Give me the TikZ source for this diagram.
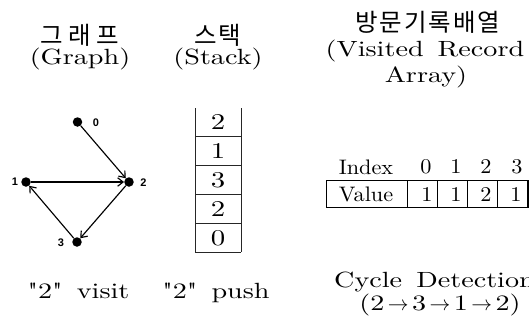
\documentclass[tikz,border=0pt]{standalone}
\usepackage{fontspec}
\setmainfont{lmroman10-regular.otf}[FakeStretch=1.28, WordSpace=1.5, Ligatures=TeXOff]
\newfontfamily\tabfont{lmroman10-regular.otf}[FakeStretch=1.06, Ligatures=TeXOff]
\newfontfamily\kr{Noto Sans CJK KR}[LetterSpace=8]
\newfontfamily\krwide{Noto Sans CJK KR}[LetterSpace=22]
\newfontfamily\lblfont{Liberation Sans}
\usetikzlibrary{arrows.meta}
\begin{document}
\begin{tikzpicture}[x=1pt,y=-1pt,
  title/.style={font=\fontsize{22}{26}\selectfont, inner sep=0pt, anchor=base},
  ktitle/.style={font=\kr\fontsize{24.5}{28}\selectfont, inner sep=0pt},
  ktitlewide/.style={font=\krwide\fontsize{24.5}{28}\selectfont, inner sep=0pt},
  dot/.style={circle, fill=black, minimum size=9.5pt, inner sep=0pt},
  vlabel/.style={font=\lblfont\bfseries\fontsize{11}{13}\selectfont, inner sep=0pt},
  edge/.style={line width=1.15pt, -{Straight Barb[length=5.5pt,width=8.5pt]}},
  cellnum/.style={font=\fontsize{22.5}{24}\selectfont, inner sep=0pt},
  tabtext/.style={font=\tabfont\fontsize{21}{22}\selectfont, inner sep=0pt},
  gridline/.style={line width=0.9pt, black!85},
]
\clip (0,0) rectangle (529,322);

% titles
\node[ktitlewide] (tg) at (80,35) {그래프};
\node[title] (tg2) at (80,64) {(Graph)};
\node[ktitle] (ts) at (218,35) {스택};
\node[title] (ts2) at (218,64) {(Stack)};
\node[ktitle] (tv) at (428,22) {방문기록배열};
\node[title] (tv2) at (425,56) {(Visited Record};
\node[title] (tv3) at (426,82) {Array)};

% graph
\node[dot] (n0) at (77.5,122) {};
\node[dot] (n1) at (26,182) {};
\node[dot] (n2) at (129,182) {};
\node[dot] (n3) at (77,242) {};
\node[vlabel] (l0) at (96,123) {0};
\node[vlabel] (l1) at (15,182) {1};
\node[vlabel] (l2) at (143.5,182.5) {2};
\node[vlabel] (l3) at (61,243) {3};
\draw[edge] (n0) -- (n2);
\draw[edge] (n1) -- (n2);
\draw[edge] (n2) -- (n3);
\draw[edge] (n3) -- (n1);

% stack
\draw[gridline] (195,108) -- (195,252);
\draw[gridline] (241,108) -- (241,252);
\foreach \yy in {136.5,165.5,194,223,252} {
  \draw[gridline] (195,\yy) -- (241,\yy);
}
\node[cellnum] (s4) at (218,122) {2};
\node[cellnum] (s3) at (218,151) {1};
\node[cellnum] (s2) at (218,180) {3};
\node[cellnum] (s1) at (218,209) {2};
\node[cellnum] (s0) at (218,238) {0};

% visited array
\node[tabtext] (hidx) at (366,167) {Index};
\node[tabtext] (h0) at (426,167) {0};
\node[tabtext] (h1) at (456,167) {1};
\node[tabtext] (h2) at (486,167) {2};
\node[tabtext] (h3) at (517,167) {3};
\draw[gridline, black] (326,180) rectangle (527,207);
\foreach \xx in {407,437,467,497} {
  \draw[gridline, black] (\xx,180) -- (\xx,207);
}
\draw[line width=1.8pt] (326,207.4) -- (527.8,207.4) -- (527.8,180);
\node[tabtext] (hval) at (366,194) {Value};
\node[tabtext] (v0) at (427,194) {1};
\node[tabtext] (v1) at (456,194) {1};
\node[tabtext] (v2) at (486,194) {2};
\node[tabtext] (v3) at (516,194) {1};

% bottom captions
\node[title] (c1) at (78.5,298) {"2" visit};
\node[title] (c2) at (216,298) {"2" push};
\node[title, anchor=base west] (c3) at (334,287) {Cycle Detection};
\node[title] (c4) at (440,310.5) {(2$\,\to\,$3$\,\to\,$1$\,\to\,$2)};
\end{tikzpicture}
\end{document}
